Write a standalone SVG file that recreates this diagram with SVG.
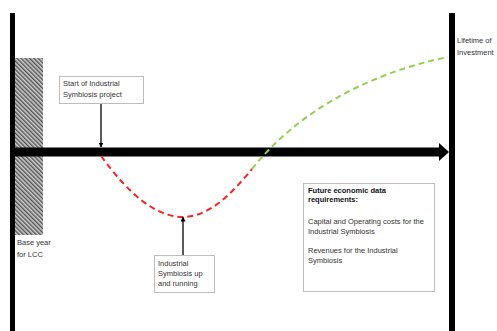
<svg xmlns="http://www.w3.org/2000/svg" width="497" height="331" viewBox="0 0 497 331">
<style>
.t{font-family:"Liberation Sans",Arial,sans-serif;font-size:7.5px;fill:#333}
.b{font-weight:bold;fill:#111}
.box{fill:#fff;stroke:#bdbdbd;stroke-width:1}
</style>
<defs>
<pattern id="hatch" width="3" height="3" patternUnits="userSpaceOnUse" patternTransform="rotate(-45)">
<rect width="3" height="3" fill="#d0d0d0"/>
<rect width="1.4" height="3" fill="#505050"/>
</pattern>
<marker id="ah" viewBox="0 0 10 10" refX="9" refY="5" markerWidth="5" markerHeight="5" orient="auto" markerUnits="userSpaceOnUse">
<path d="M0,0 L10,5 L0,10 z" fill="#000"/>
</marker>
</defs>
<rect width="497" height="331" fill="#fff"/>
<g id="base-year">
<rect x="15" y="58" width="28" height="177" fill="url(#hatch)"/>
<text class="t" x="17" y="245">Base year</text>
<text class="t" x="17" y="257">for LCC</text>
</g>
<g id="axes">
<rect x="10" y="13" width="5" height="318" fill="#000"/>
<rect x="449" y="13" width="6" height="318" fill="#000"/>
<path d="M15,147.5 H439 V143 L449,152 L439,161 V156.5 H15 z" fill="#000"/>
</g>
<g id="lifetime">
<text class="t" x="457" y="43">Lifetime of</text>
<text class="t" x="457" y="55">Investment</text>
</g>
<g id="connectors">
<path d="M101,156 C128,193 155,217 183,217 C210,217 233,192 252,169" fill="none" stroke="#ff2020" stroke-width="2" stroke-dasharray="6,4"/>
<path d="M252,169 C292,118 360,75 448,57" fill="none" stroke="#92d050" stroke-width="2" stroke-dasharray="6,4"/>
<line x1="101" y1="104" x2="101" y2="147" stroke="#000" stroke-width="1.3" marker-end="url(#ah)"/>
<line x1="183" y1="255" x2="183" y2="217" stroke="#000" stroke-width="1.3" marker-end="url(#ah)"/>
</g>
<g id="start">
<rect class="box" x="59.5" y="76.5" width="84" height="27"/>
<text class="t" x="63" y="86">Start of Industrial</text>
<text class="t" x="63" y="97">Symbiosis project</text>
</g>
<g id="running">
<rect class="box" x="154.5" y="255.5" width="60" height="37"/>
<text class="t" x="158" y="265.5">Industrial</text>
<text class="t" x="158" y="275.5">Symbiosis up</text>
<text class="t" x="158" y="285.5">and running</text>
</g>
<g id="future">
<rect class="box" x="303.5" y="183.5" width="131" height="108"/>
<text class="t b" x="308" y="192.5">Future economic data</text>
<text class="t b" x="308" y="201.5">requirements:</text>
<text class="t" x="308" y="223.5">Capital and Operating costs for the</text>
<text class="t" x="308" y="233.5">Industrial Symbiosis</text>
<text class="t" x="308" y="252.5">Revenues for the Industrial</text>
<text class="t" x="308" y="262.5">Symbiosis</text>
</g>
</svg>
